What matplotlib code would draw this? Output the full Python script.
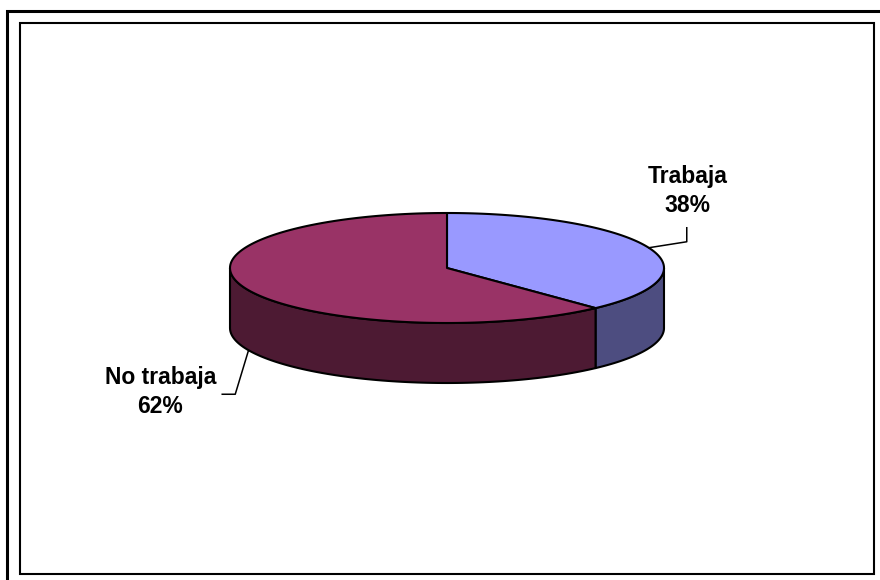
import numpy as np
import matplotlib.pyplot as plt
from matplotlib.patches import Polygon

# datos del grafico
labels = ['Trabaja', 'No trabaja']
values = [38, 62]
top_colors = ['#9999FF', '#993366']
side_colors = ['#4D4D80', '#4D1A33']

plt.rcParams['font.family'] = ['Liberation Sans', 'DejaVu Sans']

W, H = 880, 580
fig = plt.figure(figsize=(W / 100, H / 100), dpi=100)
ax = fig.add_axes([0, 0, 1, 1])
ax.set_xlim(0, W)
ax.set_ylim(H, 0)
ax.axis('off')

# marcos
ax.plot([6.5, 6.5, W], [H, 10.5, 10.5], color='black', lw=2.2,
        solid_joinstyle='miter', solid_capstyle='butt')
ax.add_patch(plt.Rectangle((20, 23), 854, 551, fill=False, ec='black', lw=1.5))

# geometria del pastel 3D
cx, cy, a, b, depth = 447, 268, 217, 55, 60


def pt(theta, dz=0.0):
    # theta en grados, desde las 12 en sentido horario
    t = np.radians(theta)
    return cx + a * np.sin(t), cy - b * np.cos(t) + dz


fracs = np.array(values, dtype=float) / sum(values)
edges = np.concatenate([[0], np.cumsum(fracs) * 360])

# paredes laterales (solo la mitad frontal, 90..270)
for i in range(len(values)):
    t0, t1 = max(edges[i], 90), min(edges[i + 1], 270)
    if t1 <= t0:
        continue
    th = np.linspace(t0, t1, 100)
    x, y = pt(th)
    xb, yb = pt(th[::-1], depth)
    poly = np.column_stack([np.concatenate([x, xb]), np.concatenate([y, yb])])
    ax.add_patch(Polygon(poly, closed=True, fc=side_colors[i], ec='black',
                         lw=1.5, joinstyle='round'))

# caras superiores
for i in range(len(values)):
    th = np.linspace(edges[i], edges[i + 1], 200)
    x, y = pt(th)
    poly = np.column_stack([np.concatenate([[cx], x]), np.concatenate([[cy], y])])
    ax.add_patch(Polygon(poly, closed=True, fc=top_colors[i], ec='black',
                         lw=1.5, joinstyle='round'))

# etiquetas con lineas guia
mids = (edges[:-1] + edges[1:]) / 2
font = dict(fontsize=16.5, fontweight='bold', ha='center', va='center',
            linespacing=1.35)

# Trabaja (mitad trasera -> borde superior)
x0, y0 = pt(mids[0])
ax.plot([x0, x0 + 38, x0 + 38], [y0, y0 - 6, y0 - 20], color='black', lw=1.1)
ax.text(x0 + 39, y0 - 57, f'{labels[0]}\n{values[0]}%', **font)

# No trabaja (mitad frontal -> borde inferior)
x1, y1 = pt(mids[1], depth)
ax.plot([x1 + 3, x1 - 10, x1 - 23], [y1 + 3, y1 + 46, y1 + 46], color='black', lw=1.1)
ax.text(x1 - 85, y1 + 44, f'{labels[1]}\n{values[1]}%', **font)

fig.savefig('out.png', dpi=100)
